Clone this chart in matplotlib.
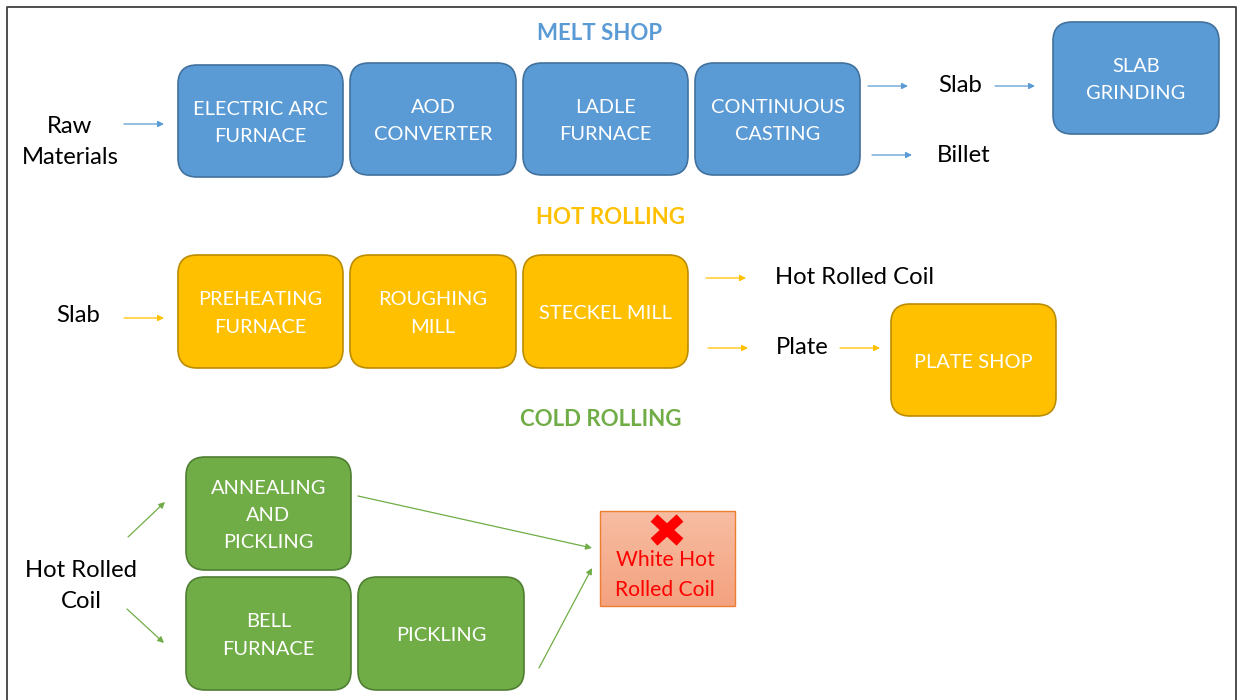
import matplotlib
matplotlib.use("Agg")
import matplotlib.pyplot as plt
from matplotlib.patches import FancyBboxPatch, Rectangle
from matplotlib.colors import LinearSegmentedColormap
import numpy as np

plt.rcParams['font.family'] = ['Lato', 'DejaVu Sans']

# ---- content ----
section_titles = ["MELT SHOP", "HOT ROLLING", "COLD ROLLING"]
melt_boxes = ["ELECTRIC ARC\nFURNACE", "AOD\nCONVERTER", "LADLE\nFURNACE", "CONTINUOUS\nCASTING", "SLAB\nGRINDING"]
hot_boxes = ["PREHEATING\nFURNACE", "ROUGHING\nMILL", "STECKEL MILL", "PLATE SHOP"]
cold_boxes = ["ANNEALING\nAND\nPICKLING", "BELL\nFURNACE", "PICKLING"]
free_labels = ["Raw\nMaterials", "Slab", "Billet", "Slab", "Hot Rolled Coil", "Plate", "Hot Rolled\nCoil"]
reject_label = "White Hot\nRolled Coil"

# ---- layout (pixel coordinates) ----
melt_rects = [(178, 65, 165, 112), (350, 63, 166, 112), (523, 63, 165, 112), (695, 63, 165, 112), (1053, 22, 166, 112)]
hot_rects = [(178, 255, 165, 113), (350, 255, 166, 113), (523, 255, 165, 113), (891, 304, 165, 112)]
cold_rects = [(186, 457, 165, 113), (186, 577, 165, 113), (358, 577, 166, 113)]
title_pos = [(600, 33), (611, 217), (601, 419)]
free_pos = [(70, 142), (960, 86), (964, 155), (78, 316), (855, 277), (802, 348), (81, 586)]

BLUE, BLUE_E = "#5B9BD5", "#41719C"
YEL, YEL_E = "#FFC000", "#BC8C00"
GRN, GRN_E = "#70AD47", "#507E32"
section_colors = [BLUE, YEL, GRN]

fig = plt.figure(figsize=(12.37, 7.0), dpi=100)
ax = fig.add_axes([0, 0, 1, 1])
ax.set_xlim(0, 1237)
ax.set_ylim(700, 0)
ax.axis('off')

# frame
ax.plot([6.5, 6.5, 1235.5, 1235.5], [700, 6.5, 6.5, 700], color="#404040", lw=1.3, solid_capstyle='butt')


def box(rect, label, fc, ec, fs=14.4):
    x, y, w, h = rect
    p = FancyBboxPatch((x, y), w, h, boxstyle="round,pad=0,rounding_size=19",
                       fc=fc, ec=ec, lw=1.2, zorder=2)
    ax.add_patch(p)
    ax.text(x + w / 2, y + h / 2 + 2, label, ha='center', va='center', color='white',
            fontsize=fs, linespacing=1.72, zorder=3)


for r, l in zip(melt_rects, melt_boxes):
    box(r, l, BLUE, BLUE_E)
for r, l in zip(hot_rects, hot_boxes):
    box(r, l, YEL, YEL_E)
for r, l in zip(cold_rects, cold_boxes):
    box(r, l, GRN, GRN_E)

for (x, y), t, c in zip(title_pos, section_titles, section_colors):
    ax.text(x, y, t, ha='center', va='center', color=c, fontsize=16, fontweight='bold')

for (x, y), t in zip(free_pos, free_labels):
    ax.text(x, y, t, ha='center', va='center', color='black', fontsize=17.2, linespacing=1.58)


def arrow(x0, y0, x1, y1, c):
    ax.annotate("", xy=(x1, y1), xytext=(x0, y0),
                arrowprops=dict(arrowstyle='-|>', color=c, lw=0.9, mutation_scale=9,
                                shrinkA=0, shrinkB=0), zorder=4)


# melt shop arrows
arrow(124, 124, 164, 124, BLUE)
arrow(868, 86, 908, 86, BLUE)
arrow(872, 155, 912, 155, BLUE)
arrow(995, 86, 1035, 86, BLUE)
# hot rolling arrows
arrow(124, 318, 164, 318, YEL)
arrow(706, 278, 746, 278, YEL)
arrow(708, 348, 748, 348, YEL)
arrow(840, 348, 880, 348, YEL)
# cold rolling arrows
arrow(128, 537, 165, 502, GRN)
arrow(127, 609, 164, 643, GRN)
arrow(358, 496, 592, 548, GRN)
arrow(539, 668, 592, 568, GRN)

# rejected product box with gradient
rx, ry, rw, rh = 600, 511, 135, 95
grad = np.linspace(0, 1, 64).reshape(-1, 1)
cmap = LinearSegmentedColormap.from_list("g", ["#F7BDA3", "#F4A27F"])
ax.imshow(grad, extent=(rx, rx + rw, ry + rh, ry), cmap=cmap, aspect='auto', zorder=2,
          interpolation='bilinear')
ax.add_patch(Rectangle((rx, ry), rw, rh, fill=False, ec="#ED7D31", lw=1.0, zorder=3))
# red cross mark
ax.plot([654, 680], [518, 542], color='#FF0000', lw=7.2, solid_capstyle='butt', zorder=4)
ax.plot([654, 680], [542, 518], color='#FF0000', lw=7.2, solid_capstyle='butt', zorder=4)
ax.text(665, 575, reject_label, ha='center', va='center', color='#FF0000',
        fontsize=15.2, linespacing=1.65, zorder=4)

ax.set_xlim(0, 1237)
ax.set_ylim(700, 0)
fig.savefig("out.png", dpi=100)
